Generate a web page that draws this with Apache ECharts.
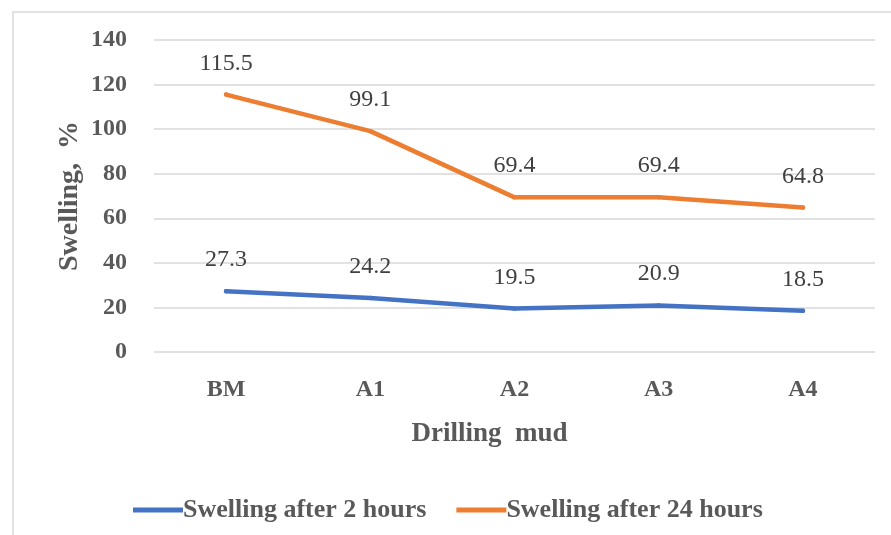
<!DOCTYPE html>
<html>
<head>
<meta charset="utf-8">
<script src="https://cdn.jsdelivr.net/npm/echarts@6/dist/echarts.min.js"></script>
<style>
  html, body { margin: 0; padding: 0; background: #fff; }
  #chart { width: 891px; height: 535px; }
</style>
</head>
<body>
<div id="chart"></div>
<script>
// data
const categories = ['BM', 'A1', 'A2', 'A3', 'A4'];
const after2h = [27.3, 24.2, 19.5, 20.9, 18.5];
const after24h = [115.5, 99.1, 69.4, 69.4, 64.8];

const serif = '"Liberation Serif", "DejaVu Serif", serif';

const chart = echarts.init(document.getElementById('chart'));

const labelStyle = {
    show: true,
    position: 'top',
    distance: 17,
    color: '#404040',
    fontFamily: serif,
    fontSize: 24
};

// small symbols the size of the line width, so they disappear into the line
function lineSeries(name, data, color) {
    return {
        name: name,
        type: 'line',
        data: data,
        symbol: 'circle',
        symbolSize: 4.5,
        showSymbol: true,
        lineStyle: { color: color, width: 4.5, cap: 'round' },
        itemStyle: { color: color, borderWidth: 0 },
        label: labelStyle
    };
}

chart.setOption({
    animation: false,
    color: ['#4472C4', '#ED7D31'],
    graphic: [{
        type: 'rect',
        shape: { x: 13, y: 12, width: 900, height: 540 },
        style: { fill: 'none', stroke: '#d9d9d9', lineWidth: 1.5 }
    }],
    grid: { left: 154, right: 16, top: 40, bottom: 183 },
    legend: {
        left: 128,
        top: 492,
        itemWidth: 50,
        itemHeight: 5,
        itemGap: 30,
        icon: 'rect',
        textStyle: { color: '#595959', fontFamily: serif, fontSize: 26, fontWeight: 'bold', padding: [0, 0, 0, -5] },
        data: ['Swelling after 2 hours', 'Swelling after 24 hours']
    },
    xAxis: {
        type: 'category',
        data: categories,
        name: 'Drilling  mud',
        nameLocation: 'middle',
        nameGap: 69,
        nameMoveOverlap: false,
        nameTextStyle: { color: '#595959', fontFamily: serif, fontSize: 27, fontWeight: 'bold', padding: [0, 50, 0, 0] },
        axisLine: { show: false },
        axisTick: { show: false },
        axisLabel: { color: '#595959', fontFamily: serif, fontSize: 24, fontWeight: 'bold', margin: 26 }
    },
    yAxis: {
        type: 'value',
        min: 0,
        max: 140,
        interval: 20,
        name: 'Swelling,  %',
        nameLocation: 'middle',
        nameGap: 70,
        nameMoveOverlap: false,
        nameTextStyle: { color: '#595959', fontFamily: serif, fontSize: 28, fontWeight: 'bold' },
        axisLabel: { color: '#595959', fontFamily: serif, fontSize: 24, fontWeight: 'bold', margin: 27 },
        splitLine: { lineStyle: { color: '#d9d9d9', width: 1.5 } }
    },
    series: [
        lineSeries('Swelling after 2 hours', after2h, '#4472C4'),
        lineSeries('Swelling after 24 hours', after24h, '#ED7D31')
    ]
});
</script>
</body>
</html>
